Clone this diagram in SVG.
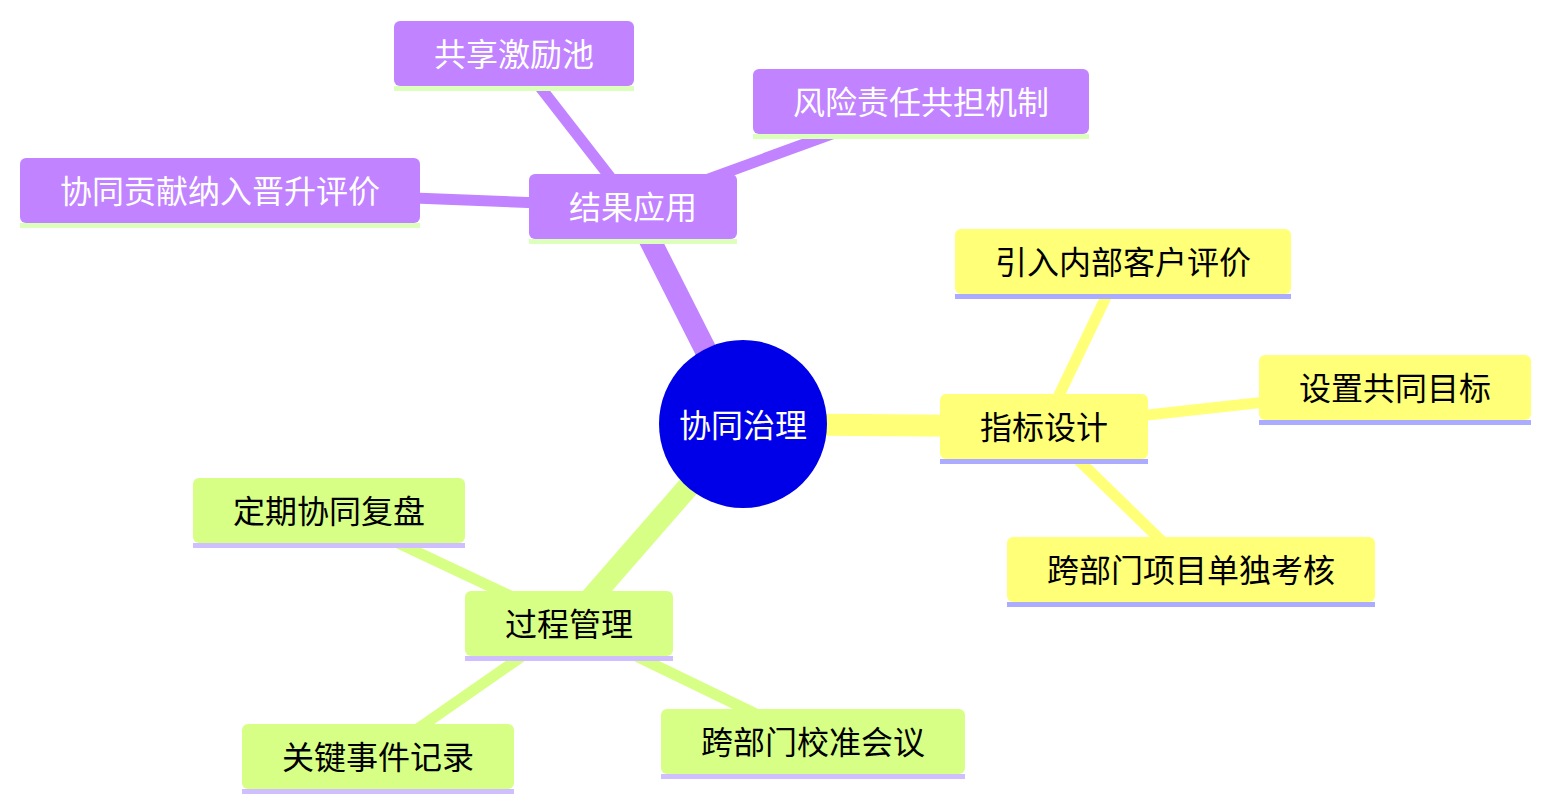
<svg xmlns="http://www.w3.org/2000/svg" width="1550" height="811" viewBox="0 0 1550 811">
<style>
text{font-family:"Noto Sans CJK SC","Noto Sans",sans-serif;font-size:32px;text-anchor:middle;dominant-baseline:central}
.e{stroke-linecap:butt;fill:none}
.d1{stroke-width:22}
.d2{stroke-width:11}
.sP{stroke:#C183FF}.sY{stroke:#FFFF78}.sG{stroke:#D7FF86}
.fP{fill:#C183FF}.fY{fill:#FFFF78}.fG{fill:#D7FF86}
.bP{fill:#DCFFBC}.bY{fill:#ABABFF}.bG{fill:#D0BFFF}
.tw{fill:#ffffff}.tb{fill:#000000}
</style>
<rect width="1550" height="811" fill="#ffffff"/>
<g id="connectors">
<line class="e d1 sP" x1="743" y1="424" x2="633" y2="206.5"/>
<line class="e d1 sY" x1="743" y1="424" x2="1044" y2="426.5"/>
<line class="e d1 sG" x1="743" y1="424" x2="569" y2="623.5"/>
<line class="e d2 sP" x1="633" y1="206.5" x2="514" y2="53.5"/>
<line class="e d2 sP" x1="633" y1="206.5" x2="921" y2="101.5"/>
<line class="e d2 sP" x1="633" y1="206.5" x2="220" y2="190.5"/>
<line class="e d2 sY" x1="1044" y1="426.5" x2="1123" y2="261.5"/>
<line class="e d2 sY" x1="1044" y1="426.5" x2="1395" y2="387.5"/>
<line class="e d2 sY" x1="1044" y1="426.5" x2="1191" y2="569.5"/>
<line class="e d2 sG" x1="569" y1="623.5" x2="329" y2="510.5"/>
<line class="e d2 sG" x1="569" y1="623.5" x2="378" y2="756.5"/>
<line class="e d2 sG" x1="569" y1="623.5" x2="813" y2="741.5"/>
</g>
<g id="n_root"><circle cx="743" cy="424" r="84" fill="#0000E8"/><text class="tw" x="743" y="422.5">协同治理</text></g>
<g id="n_jieguo"><rect class="fP" x="529" y="174" width="208" height="65" rx="6"/><rect class="bP" x="529" y="239" width="208" height="5"/><text class="tw" x="633" y="205">结果应用</text></g>
<g id="n_gongxiang"><rect class="fP" x="394" y="21" width="240" height="65" rx="6"/><rect class="bP" x="394" y="86" width="240" height="5"/><text class="tw" x="514" y="52">共享激励池</text></g>
<g id="n_fengxian"><rect class="fP" x="753" y="69" width="336" height="65" rx="6"/><rect class="bP" x="753" y="134" width="336" height="5"/><text class="tw" x="921" y="100">风险责任共担机制</text></g>
<g id="n_xietong"><rect class="fP" x="20" y="158" width="400" height="65" rx="6"/><rect class="bP" x="20" y="223" width="400" height="5"/><text class="tw" x="220" y="189">协同贡献纳入晋升评价</text></g>
<g id="n_zhibiao"><rect class="fY" x="940" y="394" width="208" height="65" rx="6"/><rect class="bY" x="940" y="459" width="208" height="5"/><text class="tb" x="1044" y="425">指标设计</text></g>
<g id="n_yinru"><rect class="fY" x="955" y="229" width="336" height="65" rx="6"/><rect class="bY" x="955" y="294" width="336" height="5"/><text class="tb" x="1123" y="260">引入内部客户评价</text></g>
<g id="n_shezhi"><rect class="fY" x="1259" y="355" width="272" height="65" rx="6"/><rect class="bY" x="1259" y="420" width="272" height="5"/><text class="tb" x="1395" y="386">设置共同目标</text></g>
<g id="n_kuabumen1"><rect class="fY" x="1007" y="537" width="368" height="65" rx="6"/><rect class="bY" x="1007" y="602" width="368" height="5"/><text class="tb" x="1191" y="568">跨部门项目单独考核</text></g>
<g id="n_guocheng"><rect class="fG" x="465" y="591" width="208" height="65" rx="6"/><rect class="bG" x="465" y="656" width="208" height="5"/><text class="tb" x="569" y="622">过程管理</text></g>
<g id="n_dingqi"><rect class="fG" x="193" y="478" width="272" height="65" rx="6"/><rect class="bG" x="193" y="543" width="272" height="5"/><text class="tb" x="329" y="509">定期协同复盘</text></g>
<g id="n_guanjian"><rect class="fG" x="242" y="724" width="272" height="65" rx="6"/><rect class="bG" x="242" y="789" width="272" height="5"/><text class="tb" x="378" y="755">关键事件记录</text></g>
<g id="n_kuabumen2"><rect class="fG" x="661" y="709" width="304" height="65" rx="6"/><rect class="bG" x="661" y="774" width="304" height="5"/><text class="tb" x="813" y="740">跨部门校准会议</text></g>
</svg>
